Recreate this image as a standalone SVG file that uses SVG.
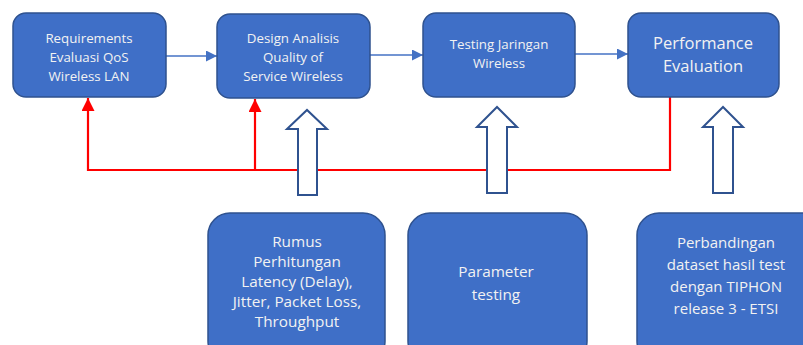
<svg xmlns="http://www.w3.org/2000/svg" width="803" height="345" viewBox="0 0 803 345">
  <defs>
    <style>
      .box { fill: #3F6FC7; stroke: #2F528F; stroke-width: 1.5; }
      .lbl { font-family: "Open Sans", "Liberation Sans", sans-serif; fill: #F2F2F2; text-anchor: middle; }
      .flow { stroke: #4472C4; stroke-width: 1.3; fill: none; }
      .fb { stroke: #FF0000; stroke-width: 2.2; fill: none; }
      .big { fill: #FFFFFF; stroke: #2F528F; stroke-width: 2; }
    </style>
    <marker id="blueHead" viewBox="0 0 10 10" refX="10" refY="5" markerWidth="11" markerHeight="11" markerUnits="userSpaceOnUse" orient="auto">
      <path d="M0,0 L10,5 L0,10 Z" fill="#4472C4"/>
    </marker>
    <marker id="redHead" viewBox="0 0 10 10" refX="10" refY="5" markerWidth="13" markerHeight="13" markerUnits="userSpaceOnUse" orient="auto">
      <path d="M0,0 L10,5 L0,10 Z" fill="#FF0000"/>
    </marker>
  </defs>

  <!-- connectors -->
  <g id="connectors">
    <line class="flow" x1="166" y1="56" x2="217" y2="56" marker-end="url(#blueHead)"/>
    <line class="flow" x1="370" y1="55" x2="423" y2="55" marker-end="url(#blueHead)"/>
    <line class="flow" x1="575" y1="54" x2="628" y2="54" marker-end="url(#blueHead)"/>
    <polyline class="fb" points="670,97 670,170 88,170 88,98" marker-end="url(#redHead)"/>
    <polyline class="fb" points="255,170 255,99" marker-end="url(#redHead)"/>
    <!-- hollow block arrows -->
    <path class="big" d="M298,195 L298,129 L287,129 L307,110 L327,129 L317,129 L317,195 Z"/>
    <path class="big" d="M487,193 L487,127 L477,127 L497,107 L517,127 L507,127 L507,193 Z"/>
    <path class="big" d="M713,193 L713,127 L703,127 L723,107 L743,127 L733,127 L733,193 Z"/>
  </g>

  <g id="n1">
    <rect class="box" x="13" y="13" width="153" height="84" rx="13"/>
    <text class="lbl" font-size="13.3"><tspan x="89" y="43">Requirements</tspan><tspan x="89" y="62">Evaluasi QoS</tspan><tspan x="89" y="81">Wireless LAN</tspan></text>
  </g>
  <g id="n2">
    <rect class="box" x="217" y="14" width="153" height="84" rx="13"/>
    <text class="lbl" font-size="13.3"><tspan x="293" y="43">Design Analisis</tspan><tspan x="293" y="62">Quality of</tspan><tspan x="293" y="81">Service Wireless</tspan></text>
  </g>
  <g id="n3">
    <rect class="box" x="423" y="13" width="152" height="84" rx="13"/>
    <text class="lbl" font-size="13.3"><tspan x="499" y="49">Testing Jaringan</tspan><tspan x="499" y="68">Wireless</tspan></text>
  </g>
  <g id="n4">
    <rect class="box" x="628" y="13" width="151" height="84" rx="13"/>
    <text class="lbl" font-size="16.5"><tspan x="703" y="49">Performance</tspan><tspan x="703" y="72">Evaluation</tspan></text>
  </g>
  <g id="n5">
    <rect class="box" x="208" y="213" width="177" height="150" rx="22"/>
    <text class="lbl" font-size="15.3"><tspan x="297" y="247">Rumus</tspan><tspan x="297" y="267">Perhitungan</tspan><tspan x="297" y="287">Latency (Delay),</tspan><tspan x="297" y="307">Jitter, Packet Loss,</tspan><tspan x="297" y="327">Throughput</tspan></text>
  </g>
  <g id="n6">
    <rect class="box" x="408" y="213" width="179" height="150" rx="22"/>
    <text class="lbl" font-size="15.3"><tspan x="496" y="277">Parameter</tspan><tspan x="496" y="300">testing</tspan></text>
  </g>
  <g id="n7">
    <rect class="box" x="637" y="213" width="190" height="150" rx="22"/>
    <text class="lbl" font-size="15"><tspan x="726" y="248">Perbandingan</tspan><tspan x="726" y="270">dataset hasil test</tspan><tspan x="726" y="292">dengan TIPHON</tspan><tspan x="726" y="314">release 3 - ETSI</tspan></text>
  </g>
</svg>
